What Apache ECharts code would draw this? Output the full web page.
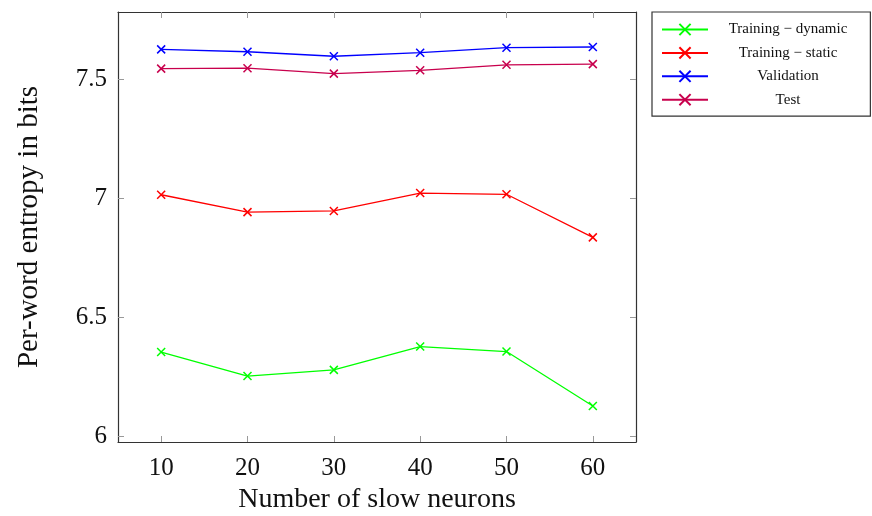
<!DOCTYPE html>
<html><head><meta charset="utf-8">
<script src="https://cdn.jsdelivr.net/npm/echarts@6/dist/echarts.min.js"></script>
<style>html,body{margin:0;padding:0;background:#fff}#c{width:872px;height:516px}</style>
</head><body><div id="c"></div>
<script>
const neurons = [10, 20, 30, 40, 50, 60];
const trainingDynamic = [6.354, 6.253, 6.279, 6.377, 6.356, 6.127];
const trainingStatic = [7.015, 6.942, 6.947, 7.022, 7.017, 6.836];
const validation = [7.626, 7.616, 7.597, 7.612, 7.633, 7.636];
const test = [7.545, 7.547, 7.524, 7.538, 7.561, 7.564];
const seriesNames = ['Training − dynamic', 'Training − static', 'Validation', 'Test'];
const xTicks = [10, 20, 30, 40, 50, 60];
const yTicks = [6, 6.5, 7, 7.5];

const colors = ['#00ff00', '#ff0000', '#0000ff', '#c8004d'];
const font = 'Liberation Serif';
const cross = 'path://M0,0 L10,10 M10,0 L0,10';
const pair = a => a.map((v, i) => [neurons[i], v]);
const datasets = [trainingDynamic, trainingStatic, validation, test];

const chart = echarts.init(document.getElementById('c'), null, {renderer: 'canvas'});
const tick = vals => ({show: true, inside: true, length: 6, customValues: vals, lineStyle: {color: '#999'}});
const line = {show: true, onZero: false, lineStyle: {color: '#333', width: 1.2}};
const X = {type: 'value', min: 5, max: 65, splitLine: {show: false}, axisLine: line};
const Y = {type: 'value', min: 5.976, max: 7.783, splitLine: {show: false}, axisLine: line};
chart.setOption({
  animation: false,
  grid: {left: 118, top: 12, width: 518, height: 430, containLabel: false, outerBoundsMode: 'none'},
  legend: {
    orient: 'vertical', left: 652, top: 12,
    padding: [10, 23, 9, 9], itemGap: 8.4, itemWidth: 46, itemHeight: 14,
    borderColor: '#333', borderWidth: 1.2,
    data: seriesNames,
    formatter: n => '{a|' + n + '}',
    textStyle: {fontFamily: font, fontSize: 15, color: '#111',
      rich: {a: {fontFamily: font, fontSize: 15, color: '#111', width: 150, align: 'center'}}}
  },
  xAxis: [
    Object.assign({}, X, {position: 'bottom', axisTick: tick(xTicks),
      axisLabel: {fontFamily: font, fontSize: 25, color: '#111', margin: 14, customValues: xTicks},
      name: 'Number of slow neurons', nameLocation: 'middle', nameGap: 44,
      nameTextStyle: {fontFamily: font, fontSize: 28, color: '#111'}}),
    Object.assign({}, X, {position: 'top', axisTick: tick(xTicks), axisLabel: {show: false}})
  ],
  yAxis: [
    Object.assign({}, Y, {position: 'left', axisTick: tick(yTicks),
      axisLabel: {fontFamily: font, fontSize: 25, color: '#111', margin: 11, customValues: yTicks},
      name: 'Per-word entropy in bits', nameLocation: 'middle', nameGap: 74, nameRotate: 90,
      nameTextStyle: {fontFamily: font, fontSize: 29, color: '#111'}}),
    Object.assign({}, Y, {position: 'right', axisTick: tick(yTicks), axisLabel: {show: false}})
  ],
  series: datasets.map((d, i) => ({
    name: seriesNames[i], type: 'line', data: pair(d),
    symbol: cross, symbolSize: 8,
    color: colors[i],
    lineStyle: {color: colors[i], width: 1.3},
    itemStyle: {color: colors[i], borderColor: colors[i], borderWidth: 1.5}
  }))
});
</script></body></html>
